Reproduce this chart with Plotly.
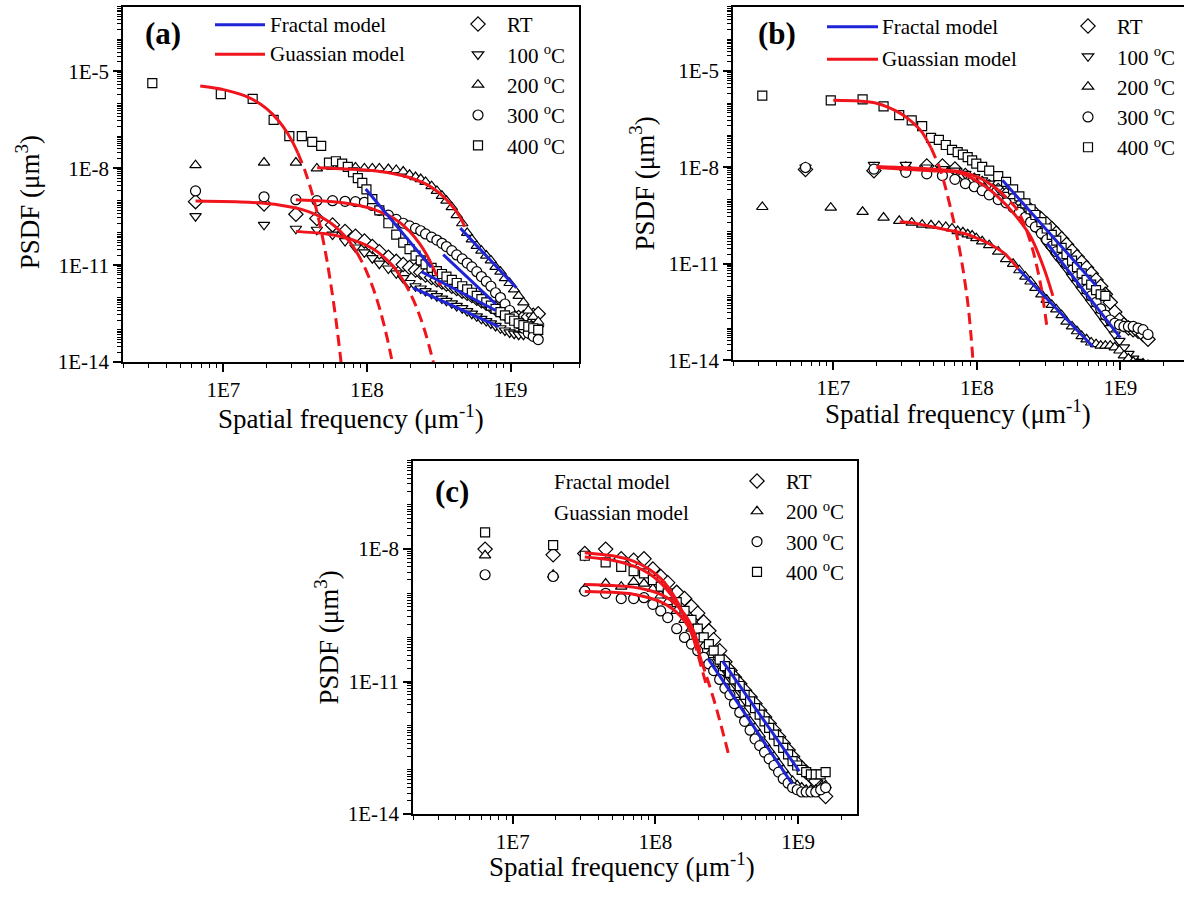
import plotly.graph_objects as go

FONT = "Liberation Serif"
W, H = 1184, 906

# ---------------- frequency grids (um^-1) ----------------
FREQ = [6.4e6, 1.92e7, 3.2e7, 4.48e7, 5.76e7, 7.04e7, 8.32e7, 9.6e7, 1.09e8, 1.22e8,
        1.41e8, 1.6e8, 1.79e8, 1.98e8, 2.18e8, 2.37e8, 2.56e8, 2.82e8, 3.07e8, 3.33e8,
        3.58e8, 3.9e8, 4.22e8, 4.61e8, 4.99e8, 5.38e8, 5.82e8, 6.27e8, 6.78e8, 7.3e8,
        7.87e8, 8.51e8, 9.15e8, 9.86e8, 1.06e9, 1.14e9, 1.23e9, 1.33e9, 1.44e9, 1.56e9]
FREQ_HALF = [3.2e6, 9.6e6, 1.6e7, 2.24e7, 2.88e7, 3.52e7, 4.16e7, 4.8e7, 5.44e7, 6.08e7,
             6.72e7, 7.36e7, 8.0e7, 8.64e7, 9.28e7, 9.92e7, 1.09e8, 1.22e8, 1.41e8, 1.6e8,
             1.79e8, 1.98e8, 2.18e8, 2.37e8, 2.56e8, 2.82e8, 3.07e8, 3.33e8, 3.58e8, 3.9e8,
             4.22e8, 4.61e8, 4.99e8, 5.38e8, 5.82e8, 6.27e8, 6.78e8, 7.3e8, 7.87e8, 8.51e8,
             9.15e8, 9.86e8, 1.06e9, 1.14e9, 1.23e9, 1.33e9, 1.44e9, 1.56e9]

# ---------------- panel (a) PSDF (um^3) ----------------
A_RT = [9.33e-10, 7.94e-10, 3.8e-10, 2.82e-10, 1.78e-10, 1.12e-10, 7.94e-11, 5.62e-11, 3.8e-11, 2.63e-11,
        1.78e-11, 1.32e-11, 1.05e-11, 8.51e-12, 7.08e-12, 6.03e-12, 5.01e-12, 4.17e-12, 3.55e-12, 3.02e-12,
        2.63e-12, 2.24e-12, 1.91e-12, 1.58e-12, 1.35e-12, 1.15e-12, 9.55e-13, 7.94e-13, 6.61e-13, 5.5e-13,
        4.57e-13, 3.8e-13, 3.16e-13, 2.75e-13, 2.51e-13, 2.4e-13, 2.4e-13, 2.51e-13, 2.82e-13, 3.16e-13]
A_100 = [3.31e-10, 1.78e-10, 1.35e-10, 1.26e-10, 8.91e-11, 5.62e-11, 3.55e-11, 2.51e-11, 1.66e-11, 1.12e-11,
         7.94e-12, 5.62e-12, 3.98e-12, 2.82e-12, 2.24e-12, 1.91e-12, 1.58e-12, 1.32e-12, 1.1e-12, 9.33e-13,
         7.94e-13, 6.61e-13, 5.5e-13, 4.68e-13, 3.8e-13, 3.16e-13, 2.63e-13, 2.19e-13, 1.86e-13, 1.58e-13,
         1.32e-13, 1.12e-13, 9.55e-14, 8.32e-14, 7.59e-14, 7.08e-14, 7.08e-14, 7.59e-14, 8.91e-14, 1.12e-13]
A_200 = [1.26e-8, 1.51e-8, 1.51e-8, 1e-8, 1.12e-8, 1.12e-8, 1.07e-8, 1e-8, 1e-8, 1e-8,
         9.55e-9, 8.91e-9, 7.94e-9, 6.31e-9, 5.37e-9, 4.68e-9, 3.8e-9, 2.82e-9, 2.0e-9, 1.41e-9,
         1e-9, 6.31e-10, 3.55e-10, 2.0e-10, 1e-10, 6.31e-11, 3.98e-11, 2.82e-11, 2.0e-11, 1.41e-11,
         8.91e-12, 6.31e-12, 3.98e-12, 2.82e-12, 1.78e-12, 1.12e-12, 7.08e-13, 3.98e-13, 2.51e-13, 1.78e-13]
A_300 = [2.0e-9, 1.32e-9, 1.07e-9, 1e-9, 1e-9, 9.55e-10, 9.33e-10, 8.91e-10, 7.08e-10, 5.01e-10,
         3.55e-10, 2.63e-10, 2.0e-10, 1.66e-10, 1.38e-10, 1.17e-10, 9.33e-11, 7.41e-11, 6.03e-11, 4.79e-11,
         3.8e-11, 2.82e-11, 2.09e-11, 1.58e-11, 1.17e-11, 8.91e-12, 6.31e-12, 4.47e-12, 3.16e-12, 2.24e-12,
         1.41e-12, 1e-12, 6.31e-13, 3.98e-13, 2.51e-13, 1.58e-13, 1.12e-13, 7.94e-14, 6.31e-14, 5.01e-14]
A_400 = [4.37e-6, 2.0e-6, 1.41e-6, 3.16e-7, 1e-7, 1e-7, 6.61e-8, 5.01e-8, 1.51e-8, 1.66e-8,
         1.41e-8, 1.12e-8, 7.59e-9, 5.01e-9, 3.55e-9, 2.24e-9, 1.12e-9, 5.01e-10, 2.0e-10, 8.91e-11,
         5.01e-11, 3.16e-11, 2.0e-11, 1.41e-11, 1.07e-11, 8.32e-12, 6.61e-12, 5.37e-12, 4.47e-12, 3.55e-12,
         2.82e-12, 2.24e-12, 1.78e-12, 1.41e-12, 1.12e-12, 8.91e-13, 7.08e-13, 5.62e-13, 4.47e-13, 3.55e-13,
         2.82e-13, 2.24e-13, 1.91e-13, 1.58e-13, 1.41e-13, 1.26e-13, 1.12e-13, 1e-13]

# Gaussian model curves (a): solid part and dashed extrapolation
A_G400_X = [6.9e6, 1.0e7, 1.4e7, 1.8e7, 2.2e7, 2.6e7, 3.0e7, 3.3e7]
A_G400_Y = [3.55e-6, 2.75e-6, 1.78e-6, 1e-6, 4.79e-7, 2.0e-7, 7.24e-8, 3.02e-8]
A_G400D_X = [3.3e7, 3.7e7, 4.1e7, 4.5e7, 4.9e7, 5.3e7, 5.7e7, 6.1e7, 6.5e7, 6.6e7]
A_G400D_Y = [3.02e-8, 8.51e-9, 2.04e-9, 4.27e-10, 7.59e-11, 1.2e-11, 1.58e-12, 1.86e-13, 1.86e-14, 1e-14]
A_GRT_X = [6.4e6, 1.5e7, 2.5e7, 3.5e7, 4.5e7, 5.5e7, 6.5e7, 7.5e7, 8.5e7]
A_GRT_Y = [9.77e-10, 8.91e-10, 7.24e-10, 5.37e-10, 3.55e-10, 2.14e-10, 1.15e-10, 5.62e-11, 2.51e-11]
A_GRTD_X = [8.5e7, 9.5e7, 1.05e8, 1.15e8, 1.25e8, 1.35e8, 1.45e8, 1.5e8]
A_GRTD_Y = [2.51e-11, 1e-11, 3.55e-12, 1.15e-12, 3.39e-13, 8.91e-14, 2.14e-14, 1e-14]
A_G100_X = [3.2e7, 5e7, 7e7, 9e7, 1.1e8, 1.3e8, 1.5e8, 1.65e8, 1.8e8]
A_G100_Y = [1.12e-10, 9.55e-11, 7.24e-11, 5.01e-11, 3.24e-11, 1.86e-11, 1e-11, 5.75e-12, 3.24e-12]
A_G100D_X = [1.8e8, 2.0e8, 2.2e8, 2.4e8, 2.6e8, 2.8e8, 2.9e8]
A_G100D_Y = [3.24e-12, 1.38e-12, 5.37e-13, 1.91e-13, 6.17e-14, 1.82e-14, 1e-14]
A_G200_X = [4.5e7, 8e7, 1.2e8, 1.6e8, 2e8, 2.5e8, 3e8, 3.5e8, 4e8, 4.4e8, 4.8e8]
A_G200_Y = [1.05e-8, 9.33e-9, 8.13e-9, 6.61e-9, 5.13e-9, 3.47e-9, 2.14e-9, 1.2e-9, 6.17e-10, 3.39e-10, 1.58e-10]
A_G300_X = [3.2e7, 5e7, 7e7, 9e7, 1.1e8, 1.4e8, 1.7e8, 2e8, 2.3e8, 2.6e8, 2.85e8]
A_G300_Y = [1.07e-9, 9.77e-10, 8.51e-10, 6.92e-10, 5.5e-10, 3.55e-10, 2.09e-10, 1.07e-10, 5.01e-11, 2.14e-11, 9.55e-12]
A_G300D_X = [2.85e8, 3.05e8, 3.25e8]
A_G300D_Y = [9.55e-12, 4.9e-12, 2.34e-12]
# Fractal model lines (a)
A_F1_X, A_F1_Y = [4.47e8, 1.1e9], [1.41e-10, 2.0e-12]
A_F2_X, A_F2_Y = [9.8e7, 2.8e8], [2.29e-9, 8.71e-12]
A_F3_X, A_F3_Y = [3.4e8, 7.9e8], [2.14e-11, 6.31e-13]
A_F4_X, A_F4_Y = [2.4e8, 7.9e8], [6.31e-12, 3.98e-13]
A_F5_X, A_F5_Y = [2.1e8, 8.3e8], [2.0e-12, 1.26e-13]

# ---------------- panel (b) ----------------
B_RT = [8.71e-9, 7.94e-9, 8.91e-9, 1.12e-8, 1.12e-8, 8.91e-9, 5.62e-9, 3.98e-9, 3.16e-9, 2.51e-9,
        1.91e-9, 1.41e-9, 1.12e-9, 8.51e-10, 6.31e-10, 4.68e-10, 3.55e-10, 2.51e-10, 1.78e-10, 1.26e-10,
        8.91e-11, 6.03e-11, 3.98e-11, 2.51e-11, 1.66e-11, 1.12e-11, 7.59e-12, 5.01e-12, 3.16e-12, 2.0e-12,
        1.12e-12, 6.31e-13, 3.16e-13, 1.78e-13, 1.26e-13, 1e-13, 8.91e-14, 7.94e-14, 6.31e-14, 4.47e-14]
B_100 = [1e-8, 1.2e-8, 1.2e-8, 1e-8, 8.91e-9, 7.94e-9, 6.31e-9, 5.01e-9, 3.98e-9, 3.16e-9,
         2.24e-9, 1.41e-9, 8.91e-10, 5.62e-10, 3.55e-10, 2.24e-10, 1.41e-10, 7.94e-11, 4.47e-11, 2.82e-11,
         1.78e-11, 1.12e-11, 7.08e-12, 3.98e-12, 2.51e-12, 1.58e-12, 1e-12, 6.31e-13, 3.98e-13, 2.51e-13,
         1.58e-13, 1e-13, 6.31e-14, 3.98e-14, 2.51e-14, 1.58e-14, 1.12e-14, 8.91e-15, 7.94e-15, 7.08e-15]
B_200 = [5.89e-10, 5.62e-10, 4.17e-10, 2.75e-10, 2.19e-10, 1.91e-10, 1.66e-10, 1.58e-10, 1.51e-10, 1.41e-10,
         1.26e-10, 1.05e-10, 9.55e-11, 8.32e-11, 7.59e-11, 6.31e-11, 5.01e-11, 3.8e-11, 2.4e-11, 1.41e-11,
         1e-11, 6.31e-12, 3.98e-12, 2.82e-12, 1.78e-12, 1.12e-12, 7.59e-13, 5.25e-13, 3.8e-13, 2.51e-13,
         1.58e-13, 1.12e-13, 7.94e-14, 5.62e-14, 4.47e-14, 3.55e-14, 3.16e-14, 2.82e-14, 2.82e-14, 2.82e-14,
         2.51e-14, 2.0e-14, 1.41e-14, 1.12e-14, 8.91e-15, 7.94e-15, 7.94e-15, 7.08e-15]
B_300 = [1e-8, 8.91e-9, 7.08e-9, 6.31e-9, 5.62e-9, 4.27e-9, 3.16e-9, 2.51e-9, 1.91e-9, 1.41e-9,
         1e-9, 7.94e-10, 5.62e-10, 3.98e-10, 2.82e-10, 2.0e-10, 1.41e-10, 8.91e-11, 5.62e-11, 3.55e-11,
         2.4e-11, 1.51e-11, 1e-11, 6.31e-12, 3.98e-12, 2.51e-12, 1.58e-12, 1e-12, 6.31e-13, 3.98e-13,
         2.51e-13, 1.78e-13, 1.41e-13, 1.26e-13, 1.12e-13, 1.12e-13, 1.12e-13, 1e-13, 8.91e-14, 6.31e-14]
B_400 = [1.74e-6, 1.23e-6, 1.32e-6, 7.94e-7, 4.27e-7, 2.95e-7, 1.95e-7, 8.32e-8, 7.24e-8, 5.01e-8,
         3.55e-8, 3.02e-8, 2.51e-8, 2.09e-8, 1.66e-8, 1.32e-8, 1.05e-8, 7.94e-9, 5.37e-9, 3.55e-9,
         2.09e-9, 1.26e-9, 7.59e-10, 5.01e-10, 3.31e-10, 2.0e-10, 1.26e-10, 7.94e-11, 5.25e-11, 3.16e-11,
         2.0e-11, 1.26e-11, 7.94e-12, 5.01e-12, 3.16e-12, 2.24e-12, 1.51e-12, 1.12e-12, 1e-12]

B_G400_X = [1.0e7, 1.5e7, 2.0e7, 2.4e7, 2.9e7, 3.3e7, 4.1e7, 4.8e7]
B_G400_Y = [1.23e-6, 1.17e-6, 1e-6, 7.59e-7, 5.01e-7, 3.39e-7, 1.35e-7, 4.07e-8]
B_G400D_X = [4.8e7, 5.6e7, 6.6e7, 7.4e7, 8.1e7, 8.7e7, 9.1e7, 9.4e7]
B_G400D_Y = [4.07e-8, 7.94e-9, 5.01e-10, 5.01e-11, 5.01e-12, 5.01e-13, 6.31e-14, 1e-14]
B_GA_X = [2.0e7, 4.8e7, 7.4e7, 1.07e8, 1.41e8, 1.82e8, 2.37e8, 2.95e8, 3.39e8]
B_GA_Y = [1e-8, 7.94e-9, 7.08e-9, 3.16e-9, 1.2e-9, 3.63e-10, 7.08e-11, 6.92e-12, 1e-12]
B_GB_X = [2.0e7, 4.8e7, 7.4e7, 1.07e8, 1.41e8]
B_GB_Y = [1.07e-8, 8.91e-9, 7.59e-9, 4.47e-9, 2.0e-9]
B_GBD_X = [1.41e8, 1.9e8, 2.2e8, 2.5e8, 2.8e8, 3.09e8]
B_GBD_Y = [2.0e-9, 5.01e-10, 1.26e-10, 2.0e-11, 2.0e-12, 1e-13]
B_G200_X = [2.9e7, 3.5e7, 4.8e7, 6e7, 8.1e7, 1e8, 1.2e8, 1.55e8, 1.95e8]
B_G200_Y = [2.0e-10, 1.91e-10, 1.45e-10, 1.17e-10, 8.91e-11, 6.31e-11, 4.37e-11, 2.14e-11, 6.92e-12]
B_F1_X, B_F1_Y = [1.51e8, 6.8e8], [3.98e-9, 2.09e-12]
B_F2_X, B_F2_Y = [3.09e8, 1.0e9], [4.37e-11, 5.01e-14]
B_F3_X, B_F3_Y = [1.95e8, 6.46e8], [6.92e-12, 2.63e-14]

# ---------------- panel (c) ----------------
C_RT = [1e-8, 7.41e-9, 7.94e-9, 1e-8, 6.03e-9, 5.62e-9, 6.03e-9, 3.55e-9, 2.4e-9, 1.74e-9,
        1.05e-9, 7.59e-10, 5.01e-10, 3.55e-10, 2.24e-10, 1.41e-10, 8.91e-11, 5.01e-11, 2.82e-11, 1.78e-11,
        1.26e-11, 8.91e-12, 6.31e-12, 4.47e-12, 3.16e-12, 2.24e-12, 1.58e-12, 1.12e-12, 7.94e-13, 5.62e-13,
        3.98e-13, 2.82e-13, 2.0e-13, 1.41e-13, 1.12e-13, 8.91e-14, 7.08e-14, 5.62e-14, 3.98e-14, 2.51e-14]
C_200 = [7.24e-9, 2.63e-9, 1.26e-9, 1.66e-9, 1.41e-9, 1.82e-9, 1.66e-9, 1.26e-9, 8.91e-10, 6.31e-10,
         3.98e-10, 2.51e-10, 1.58e-10, 1e-10, 6.31e-11, 3.98e-11, 2.51e-11, 1.58e-11, 1e-11, 7.08e-12,
         5.01e-12, 3.16e-12, 2.0e-12, 1.26e-12, 8.91e-13, 6.31e-13, 3.98e-13, 2.82e-13, 2.0e-13, 1.41e-13,
         1e-13, 7.08e-14, 5.62e-14, 4.47e-14, 3.98e-14, 3.55e-14, 3.55e-14, 3.55e-14, 3.98e-14, 4.47e-14]
C_300 = [2.63e-9, 2.4e-9, 1.12e-9, 1e-9, 7.59e-10, 7.59e-10, 7.94e-10, 5.62e-10, 3.98e-10, 2.82e-10,
         1.58e-10, 1e-10, 7.08e-11, 5.01e-11, 3.55e-11, 2.51e-11, 1.78e-11, 1.12e-11, 7.08e-12, 5.01e-12,
         3.16e-12, 2.0e-12, 1.26e-12, 7.94e-13, 5.01e-13, 3.55e-13, 2.51e-13, 1.78e-13, 1.26e-13, 8.91e-14,
         6.31e-14, 5.01e-14, 3.98e-14, 3.55e-14, 3.16e-14, 3.16e-14, 3.16e-14, 3.16e-14, 3.55e-14, 3.98e-14]
C_400 = [2.4e-8, 1.23e-8, 7.08e-9, 5.01e-9, 3.98e-9, 3.16e-9, 2.82e-9, 2.0e-9, 1.41e-9, 1e-9,
         6.31e-10, 3.98e-10, 2.51e-10, 1.58e-10, 1e-10, 7.08e-11, 5.01e-11, 3.16e-11, 2.24e-11, 1.58e-11,
         1.12e-11, 7.94e-12, 5.01e-12, 3.55e-12, 2.51e-12, 1.78e-12, 1.26e-12, 8.91e-13, 6.31e-13, 4.47e-13,
         3.16e-13, 2.24e-13, 1.58e-13, 1.26e-13, 1e-13, 8.91e-14, 7.94e-14, 7.94e-14, 7.94e-14, 8.91e-14]

C_G1_X = [3.2e7, 5e7, 7e7, 9e7, 1.1e8, 1.3e8, 1.5e8, 1.7e8, 1.86e8]
C_G1_Y = [8.32e-9, 7.08e-9, 5.37e-9, 3.55e-9, 2.09e-9, 1.05e-9, 4.68e-10, 1.91e-10, 8.91e-11]
C_G1D_X = [1.86e8, 2.05e8, 2.3e8]
C_G1D_Y = [8.91e-11, 2.82e-11, 7.41e-12]
C_G2_X = [3.2e7, 5e7, 7e7, 9e7, 1.1e8, 1.3e8, 1.5e8, 1.7e8, 1.9e8, 2.1e8]
C_G2_Y = [6.61e-9, 5.62e-9, 4.17e-9, 2.82e-9, 1.66e-9, 8.91e-10, 4.27e-10, 1.91e-10, 7.94e-11, 2.95e-11]
C_G2D_X = [2.1e8, 2.4e8, 2.7e8, 3.0e8, 3.3e8]
C_G2D_Y = [2.95e-11, 7.94e-12, 2.24e-12, 6.31e-13, 1.91e-13]
C_G3_X = [3.2e7, 5e7, 7e7, 9e7, 1.1e8, 1.3e8, 1.5e8, 1.7e8, 1.9e8, 2.05e8]
C_G3_Y = [1.58e-9, 1.51e-9, 1.38e-9, 1.17e-9, 9.33e-10, 6.76e-10, 4.37e-10, 2.51e-10, 1.12e-10, 5.01e-11]
C_G4_X = [3.2e7, 5e7, 7e7, 9e7, 1.1e8, 1.3e8, 1.5e8, 1.7e8, 1.9e8, 2.05e8]
C_G4_Y = [1.1e-9, 1.05e-9, 9.55e-10, 7.94e-10, 6.31e-10, 4.57e-10, 3.02e-10, 1.78e-10, 8.91e-11, 4.47e-11]
C_F1_X, C_F1_Y = [2.34e8, 9.1e8], [3.31e-11, 4.79e-14]
C_F2_X, C_F2_Y = [2.95e8, 1.02e9], [2.95e-11, 9.33e-14]

# ---------------- labels ----------------
X_TICKS = [1e7, 1e8, 1e9]
X_TICKTEXT = ["1E7", "1E8", "1E9"]
Y_TICKS = [1e-14, 1e-11, 1e-8, 1e-5]
Y_TICKTEXT = ["1E-14", "1E-11", "1E-8", "1E-5"]
SERIES_NAMES = ["RT", "100 <sup>o</sup>C", "200 <sup>o</sup>C", "300 <sup>o</sup>C", "400 <sup>o</sup>C"]

RED = "#f0141c"
BLUE = "#1f24d6"
DASH = "11px,6px"

SYMBOLS = {"RT": ("diamond", 11), "100": ("triangle-down", 10), "200": ("triangle-up", 10),
           "300": ("circle", 10), "400": ("square", 9)}


def px(x):
    return x / W


def py(y):
    return 1 - y / H


fig = go.Figure()


def add_markers(xa, ya, leg, key, name, xs, ys):
    sym, size = SYMBOLS[key]
    fig.add_trace(go.Scatter(
        x=xs[:len(ys)], y=ys, mode="markers", name=name, xaxis=xa, yaxis=ya, legend=leg,
        marker=dict(symbol=sym, size=size, color="white", line=dict(color="black", width=1.2)),
        hoverinfo="skip"))


def add_line(xa, ya, xs, ys, color, dash="solid"):
    fig.add_trace(go.Scatter(
        x=xs, y=ys, mode="lines", xaxis=xa, yaxis=ya, showlegend=False, hoverinfo="skip",
        line=dict(color=color, width=3, dash=dash, shape="spline", smoothing=0.8)))


# panel (a)
add_markers("x", "y", "legend", "RT", SERIES_NAMES[0], FREQ, A_RT)
add_markers("x", "y", "legend", "100", SERIES_NAMES[1], FREQ, A_100)
add_markers("x", "y", "legend", "200", SERIES_NAMES[2], FREQ, A_200)
add_markers("x", "y", "legend", "300", SERIES_NAMES[3], FREQ, A_300)
add_markers("x", "y", "legend", "400", SERIES_NAMES[4], FREQ_HALF, A_400)
for xs, ys in [(A_G400_X, A_G400_Y), (A_GRT_X, A_GRT_Y), (A_G100_X, A_G100_Y),
               (A_G200_X, A_G200_Y), (A_G300_X, A_G300_Y)]:
    add_line("x", "y", xs, ys, RED)
for xs, ys in [(A_G400D_X, A_G400D_Y), (A_GRTD_X, A_GRTD_Y), (A_G100D_X, A_G100D_Y),
               (A_G300D_X, A_G300D_Y)]:
    add_line("x", "y", xs, ys, RED, DASH)
for xs, ys in [(A_F1_X, A_F1_Y), (A_F2_X, A_F2_Y), (A_F3_X, A_F3_Y), (A_F4_X, A_F4_Y), (A_F5_X, A_F5_Y)]:
    add_line("x", "y", xs, ys, BLUE)

# panel (b)
add_markers("x2", "y2", "legend2", "RT", SERIES_NAMES[0], FREQ, B_RT)
add_markers("x2", "y2", "legend2", "100", SERIES_NAMES[1], FREQ, B_100)
add_markers("x2", "y2", "legend2", "200", SERIES_NAMES[2], FREQ_HALF, B_200)
add_markers("x2", "y2", "legend2", "300", SERIES_NAMES[3], FREQ, B_300)
add_markers("x2", "y2", "legend2", "400", SERIES_NAMES[4], FREQ_HALF, B_400)
for xs, ys in [(B_G400_X, B_G400_Y), (B_GA_X, B_GA_Y), (B_GB_X, B_GB_Y), (B_G200_X, B_G200_Y)]:
    add_line("x2", "y2", xs, ys, RED)
for xs, ys in [(B_G400D_X, B_G400D_Y), (B_GBD_X, B_GBD_Y)]:
    add_line("x2", "y2", xs, ys, RED, DASH)
for xs, ys in [(B_F1_X, B_F1_Y), (B_F2_X, B_F2_Y), (B_F3_X, B_F3_Y)]:
    add_line("x2", "y2", xs, ys, BLUE)

# panel (c)
add_markers("x3", "y3", "legend3", "RT", SERIES_NAMES[0], FREQ, C_RT)
add_markers("x3", "y3", "legend3", "200", SERIES_NAMES[2], FREQ, C_200)
add_markers("x3", "y3", "legend3", "300", SERIES_NAMES[3], FREQ, C_300)
add_markers("x3", "y3", "legend3", "400", SERIES_NAMES[4], FREQ, C_400)
for xs, ys in [(C_G1_X, C_G1_Y), (C_G2_X, C_G2_Y), (C_G3_X, C_G3_Y), (C_G4_X, C_G4_Y)]:
    add_line("x3", "y3", xs, ys, RED)
for xs, ys in [(C_G1D_X, C_G1D_Y), (C_G2D_X, C_G2D_Y)]:
    add_line("x3", "y3", xs, ys, RED, DASH)
for xs, ys in [(C_F1_X, C_F1_Y), (C_F2_X, C_F2_Y)]:
    add_line("x3", "y3", xs, ys, BLUE)

# ---------------- axes ----------------
x_minor = [k * 10 ** e for e in range(6, 10) for k in range(2, 10)]
y_minor = [k * 10.0 ** e for e in range(-15, -2) for k in range(1, 10)
           if not (k == 1 and e in (-14, -11, -8, -5))]

tickfont = dict(family=FONT, size=21, color="black")


def xaxis(domain, rng, anchor):
    return dict(type="log", domain=domain, range=rng, anchor=anchor,
                showline=True, linecolor="black", linewidth=1.5, mirror=True,
                ticks="outside", ticklen=8, tickwidth=1.5, tickcolor="black",
                tickmode="array", tickvals=X_TICKS, ticktext=X_TICKTEXT, tickfont=tickfont,
                minor=dict(tickmode="array", tickvals=x_minor, ticks="outside", ticklen=4,
                           tickwidth=1.1, tickcolor="black", showgrid=False),
                showgrid=False, zeroline=False)


def yaxis(domain, rng, anchor, mirror=True):
    return dict(type="log", domain=domain, range=rng, anchor=anchor,
                showline=True, linecolor="black", linewidth=1.5, mirror=mirror,
                ticks="outside", ticklen=8, tickwidth=1.5, tickcolor="black",
                tickmode="array", tickvals=Y_TICKS, ticktext=Y_TICKTEXT, tickfont=tickfont,
                minor=dict(tickmode="array", tickvals=y_minor, ticks="outside", ticklen=4,
                           tickwidth=1, tickcolor="black", showgrid=False),
                showgrid=False, zeroline=False)


legend_common = dict(xanchor="left", yanchor="top", bgcolor="rgba(0,0,0,0)", borderwidth=0,
                     font=dict(family=FONT, size=21, color="black"), itemwidth=48,
                     tracegroupgap=0, orientation="v")

fig.update_layout(
    width=W, height=H, margin=dict(l=0, r=0, t=0, b=0),
    paper_bgcolor="white", plot_bgcolor="white", showlegend=True,
    font=dict(family=FONT, color="black"),
    xaxis=xaxis([px(123), px(579)], [6.301, 9.477], "y"),
    yaxis=yaxis([py(367), py(7)], [-14, -3], "x"),
    xaxis2=xaxis([px(733), 1.0], [6.301, 9.444], "y2"),
    yaxis2=yaxis([py(365), py(7)], [-14, -3], "x2", mirror=False),
    xaxis3=xaxis([px(413), px(857)], [6.301, 9.413], "y3"),
    yaxis3=yaxis([py(825), py(467)], [-14, -6], "x3"),
    legend=dict(x=px(449), y=py(4), **legend_common),
    legend2=dict(x=px(1059), y=py(6), **legend_common),
    legend3=dict(x=px(728), y=py(467), **legend_common),
)

# ---------------- text annotations ----------------
ann = []


def text(x, y, s, size=21, xanchor="left", bold=False, angle=0):
    ann.append(dict(x=px(x), y=py(y), xref="paper", yref="paper", text=("<b>%s</b>" % s) if bold else s,
                    showarrow=False, xanchor=xanchor, yanchor="middle", textangle=angle,
                    font=dict(family=FONT, size=size, color="black")))


# panel labels
text(163, 34, "(a)", 31, "center", True)
text(777, 34, "(b)", 31, "center", True)
text(452, 498, "(c)", 31, "center", True)
# model legend texts
text(268, 25, "Fractal model")
text(268, 55, "Guassian model")
text(880, 27, "Fractal model")
text(880, 60, "Guassian model")
text(552, 488, "Fractal model")
text(552, 520, "Guassian model")
# axis titles
XT = "Spatial frequency (μm<sup>-1</sup>)"
YT = "PSDF (μm<sup>3</sup>)"
text(351, 423, XT, 27, "center")
text(958, 418, XT, 27, "center")
text(622, 877, XT, 27, "center")
text(28, 205, YT, 27, "center", angle=-90)
text(642, 186, YT, 27, "center", angle=-90)
text(327, 646, YT, 27, "center", angle=-90)
fig.update_layout(annotations=ann)

# model legend line samples
shapes = []
for (x0, x1, y, c) in [(215, 265, 25, BLUE), (215, 265, 55, RED), (827, 878, 27, BLUE), (827, 878, 60, RED)]:
    shapes.append(dict(type="line", xref="paper", yref="paper", x0=px(x0), x1=px(x1), y0=py(y), y1=py(y),
                       line=dict(color=c, width=3)))
fig.update_layout(shapes=shapes)

# remove the browser's default page margin so the figure sits at the window origin
fig.write_html("out.html", config={"displayModeBar": False},
               post_script="document.body.style.margin='0px';document.body.style.overflow='hidden';")
